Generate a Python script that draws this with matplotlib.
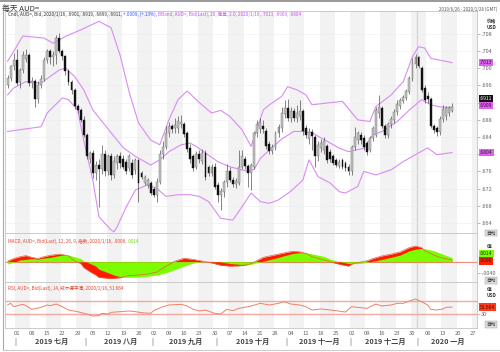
import numpy as np
import pandas as pd
import matplotlib
matplotlib.use('Agg')
import matplotlib.pyplot as plt
from matplotlib.lines import Line2D
import matplotlib.transforms as mtransforms

plt.rcParams['font.family'] = ['Noto Sans CJK SC', 'DejaVu Sans']

# ---------------- data ----------------
first_day = '2019-06-26'
last_day = '2020-01-16'
axis_end = '2020-01-28'

opens = [.6960, .6978, .7005,
         .7020, .6968, .6995, .7022, .7030,
         .6965, .6970, .6928, .6960, .6975,
         .7020, .7040, .7025, .7030, .7070,
         .7040, .7028, .6993, .6968, .6950,
         .6912, .6903, .6880, .6845, .6790,
         .6802, .6756, .6775, .6765, .6800,
         .6760, .6797, .6752, .6780, .6795,
         .6790, .6783, .6768, .6779, .6763,
         .6787, .6756, .6733, .6729, .6733,
         .6720, .6705, .6735, .6800, .6818,
         .6850, .6865, .6860, .6862, .6870,
         .6870, .6850, .6815, .6795, .6771,
         .6800, .6785, .6802, .6771, .6756,
         .6771, .6728, .6705, .6712, .6735,
         .6762, .6740, .6732, .6733, .6771,
         .6790, .6773, .6756, .6770, .6849,
         .6858, .6865, .6855, .6825, .6808,
         .6815, .6849, .6860, .6893, .6907,
         .6885, .6900, .6885, .6890, .6900,
         .6862, .6835, .6852, .6840, .6795,
         .6815, .6810, .6820, .6806, .6795,
         .6787, .6772, .6787, .6779, .6771,
         .6760, .6818, .6833, .6845, .6838,
         .6826, .6810, .6838, .6845, .6896,
         .6908, .6866, .6845, .6870, .6880,
         .6899, .6912, .6924, .6930, .6945,
         .6975, .7010, .7025, .7000, .6955,
         .6935, .6928, .6865, .6860, .6852,
         .6883, .6888, .6895, .6901]
highs = [.6985, .7008, .7035,
         .7045, .7000, .7040, .7045, .7035,
         .6980, .6975, .6970, .6985, .7025,
         .7045, .7045, .7040, .7078, .7082,
         .7045, .7030, .6998, .6972, .6955,
         .6918, .6908, .6890, .6850, .6808,
         .6810, .6785, .6790, .6822, .6810,
         .6800, .6803, .6795, .6800, .6805,
         .6798, .6790, .6800, .6788, .6792,
         .6790, .6762, .6752, .6745, .6738,
         .6725, .6745, .6810, .6830, .6865,
         .6875, .6870, .6885, .6890, .6892,
         .6875, .6855, .6825, .6800, .6808,
         .6810, .6812, .6810, .6775, .6778,
         .6780, .6735, .6722, .6740, .6778,
         .6770, .6748, .6745, .6810, .6810,
         .6795, .6778, .6780, .6855, .6880,
         .6885, .6880, .6860, .6830, .6825,
         .6855, .6870, .6911, .6926, .6929,
         .6910, .6908, .6915, .6925, .6905,
         .6868, .6860, .6858, .6845, .6830,
         .6835, .6840, .6825, .6812, .6800,
         .6792, .6788, .6792, .6785, .6778,
         .6822, .6864, .6855, .6852, .6845,
         .6830, .6842, .6865, .6911, .6938,
         .6912, .6870, .6875, .6890, .6905,
         .6925, .6930, .6938, .6952, .6982,
         .7023, .7033, .7028, .7005, .6960,
         .6945, .6932, .6870, .6866, .6888,
         .6915, .6912, .6912, .6919]
lows = [.6955, .6970, .6995,
        .6960, .6955, .6990, .7015, .6958,
        .6955, .6910, .6920, .6955, .6970,
        .7012, .7010, .7005, .7010, .7035,
        .7020, .6985, .6960, .6940, .6905,
        .6895, .6875, .6840, .6790, .6780,
        .6745, .6740, .6677, .6755, .6750,
        .6752, .6740, .6745, .6765, .6768,
        .6765, .6755, .6760, .6745, .6755,
        .6690, .6742, .6728, .6722, .6705,
        .6700, .6688, .6730, .6790, .6812,
        .6840, .6850, .6850, .6850, .6862,
        .6840, .6805, .6780, .6760, .6765,
        .6780, .6778, .6740, .6750, .6750,
        .6720, .6690, .6671, .6700, .6725,
        .6735, .6725, .6722, .6728, .6765,
        .6765, .6725, .6718, .6765, .6840,
        .6850, .6850, .6812, .6800, .6800,
        .6810, .6840, .6852, .6885, .6878,
        .6875, .6878, .6875, .6880, .6845,
        .6838, .6825, .6810, .6771, .6785,
        .6805, .6800, .6780, .6782, .6775,
        .6770, .6768, .6765, .6760, .6752,
        .6752, .6810, .6825, .6825, .6810,
        .6798, .6805, .6830, .6840, .6885,
        .6860, .6838, .6838, .6860, .6872,
        .6892, .6905, .6920, .6925, .6940,
        .6970, .7000, .7000, .6945, .6920,
        .6920, .6860, .6850, .6843, .6845,
        .6875, .6880, .6890, .6899]
closes = [.6978, .7005, .7020,
          .6966, .6995, .7030, .7030, .6965,
          .6970, .6928, .6960, .6975, .7020,
          .7040, .7025, .7030, .7070, .7040,
          .7028, .6993, .6968, .6950, .6912,
          .6903, .6880, .6845, .6795, .6802,
          .6756, .6775, .6765, .6800, .6760,
          .6797, .6752, .6785, .6795, .6780,
          .6771, .6760, .6795, .6752, .6787,
          .6733, .6748, .6748, .6740, .6710,
          .6705, .6735, .6800, .6818, .6850,
          .6865, .6858, .6868, .6878, .6875,
          .6848, .6812, .6788, .6768, .6800,
          .6790, .6802, .6748, .6756, .6771,
          .6725, .6705, .6715, .6735, .6762,
          .6740, .6732, .6738, .6771, .6795,
          .6773, .6756, .6775, .6849, .6870,
          .6875, .6858, .6820, .6808, .6818,
          .6849, .6864, .6895, .6907, .6884,
          .6900, .6885, .6897, .6900, .6853,
          .6845, .6852, .6842, .6795, .6822,
          .6826, .6830, .6787, .6788, .6780,
          .6776, .6782, .6771, .6768, .6760,
          .6818, .6841, .6849, .6833, .6818,
          .6806, .6838, .6860, .6903, .6911,
          .6866, .6845, .6870, .6883, .6899,
          .6918, .6926, .6934, .6946, .6977,
          .7012, .7025, .7005, .6950, .6927,
          .6928, .6865, .6857, .6852, .6883,
          .6905, .6907, .6908, .6911]

# Bollinger bands (20, 2.0)
bb_up_dates = ['2019-06-26', '2019-06-28', '2019-07-03', '2019-07-12', '2019-07-17', '2019-07-23',
               '2019-07-30', '2019-08-07', '2019-08-13', '2019-08-16', '2019-08-21', '2019-08-26',
               '2019-08-30', '2019-09-04', '2019-09-09', '2019-09-12', '2019-09-17', '2019-09-23',
               '2019-09-27', '2019-10-02', '2019-10-07', '2019-10-11', '2019-10-16', '2019-10-22',
               '2019-10-24', '2019-10-30', '2019-11-01', '2019-11-06', '2019-11-11', '2019-11-13',
               '2019-11-21', '2019-11-27', '2019-12-04', '2019-12-10', '2019-12-12', '2019-12-19',
               '2019-12-25', '2019-12-30', '2020-01-01', '2020-01-03', '2020-01-07', '2020-01-16']
bb_up = [.7016, .7039, .7075, .7070, .7058, .7074,
         .7089, .7109, .7094, .7029, .6943, .6873,
         .6833, .6822, .6880, .6927, .6947, .6920,
         .6896, .6902, .6888, .6857, .6818, .6903,
         .6915, .6934, .6957, .6950, .6938, .6915,
         .6920, .6923, .6880, .6876, .6911, .6938,
         .6969, .7027, .7050, .7047, .7023, .7013]
bb_mid_dates = ['2019-06-26', '2019-06-28', '2019-07-04', '2019-07-11', '2019-07-16', '2019-07-19',
                '2019-07-23', '2019-07-26', '2019-07-31', '2019-08-05', '2019-08-13', '2019-08-19',
                '2019-08-23', '2019-08-30', '2019-09-04', '2019-09-09', '2019-09-13', '2019-09-18',
                '2019-09-20', '2019-09-25', '2019-10-01', '2019-10-07', '2019-10-15', '2019-10-17',
                '2019-10-21', '2019-10-24', '2019-10-30', '2019-11-05', '2019-11-08', '2019-11-13',
                '2019-11-20', '2019-11-26', '2019-11-29', '2019-12-06', '2019-12-11', '2019-12-16',
                '2019-12-23', '2019-12-27', '2020-01-02', '2020-01-07', '2020-01-10', '2020-01-16']
bb_mid = [.6938, .6954, .6969, .6965, .6981, .6996,
          .7000, .6981, .6950, .6903, .6850, .6815,
          .6795, .6775, .6787, .6806, .6822, .6826,
          .6818, .6803, .6783, .6771, .6760, .6765,
          .6790, .6810, .6835, .6853, .6853, .6850,
          .6830, .6814, .6806, .6814, .6845, .6853,
          .6876, .6903, .6927, .6915, .6910, .6909]
bb_low_dates = ['2019-06-26', '2019-07-02', '2019-07-08', '2019-07-11', '2019-07-15', '2019-07-22',
                '2019-07-24', '2019-07-29', '2019-07-31', '2019-08-05', '2019-08-07', '2019-08-13',
                '2019-08-14', '2019-08-15', '2019-08-20', '2019-08-23', '2019-08-29', '2019-09-03',
                '2019-09-06', '2019-09-12', '2019-09-18', '2019-09-23', '2019-09-26', '2019-10-02',
                '2019-10-08', '2019-10-11', '2019-10-16', '2019-10-21', '2019-10-24', '2019-10-29',
                '2019-11-04', '2019-11-08', '2019-11-12', '2019-11-15', '2019-11-21', '2019-11-26',
                '2019-11-28', '2019-12-04', '2019-12-06', '2019-12-12', '2019-12-19', '2019-12-25',
                '2019-12-30', '2020-01-06', '2020-01-09', '2020-01-16']
bb_low = [.6853, .6857, .6861, .6864, .6896, .6931,
          .6927, .6903, .6833, .6740, .6655, .6624,
          .6620, .6632, .6678, .6717, .6729, .6721,
          .6702, .6706, .6706, .6702, .6690, .6651,
          .6647, .6678, .6710, .6690, .6686, .6694,
          .6714, .6740, .6787, .6748, .6733, .6713,
          .6710, .6725, .6760, .6752, .6764, .6783,
          .6795, .6815, .6799, .6804]

# MACD (12, 26, 9)
macd_dates = ['2019-06-26', '2019-06-28', '2019-07-02', '2019-07-04', '2019-07-08', '2019-07-10',
              '2019-07-11', '2019-07-16', '2019-07-19', '2019-07-22', '2019-07-24', '2019-07-26',
              '2019-07-30', '2019-07-31', '2019-08-02', '2019-08-06', '2019-08-07', '2019-08-12',
              '2019-08-14', '2019-08-16', '2019-08-20', '2019-08-26', '2019-08-29', '2019-09-03',
              '2019-09-06', '2019-09-11', '2019-09-16', '2019-09-19', '2019-09-24', '2019-09-27',
              '2019-10-02', '2019-10-07', '2019-10-10', '2019-10-15', '2019-10-16', '2019-10-22',
              '2019-10-28', '2019-11-01', '2019-11-05', '2019-11-07', '2019-11-11', '2019-11-13',
              '2019-11-19', '2019-11-21', '2019-11-25', '2019-11-27', '2019-11-29', '2019-12-02',
              '2019-12-05', '2019-12-09', '2019-12-11', '2019-12-16', '2019-12-19', '2019-12-24',
              '2019-12-27', '2019-12-31', '2020-01-02', '2020-01-03', '2020-01-08', '2020-01-10',
              '2020-01-15', '2020-01-16']
macd = [.0002, .0011, .0017, .0021, .0015, .0011,
        .0015, .0022, .0026, .0025, .0020, .0003,
        -.0006, -.0020, -.0034, -.0046, -.0054, -.0057,
        -.0057, -.0055, -.0049, -.0046, -.0042, -.0036,
        -.0016, .0002, .0012, .0008, .0002, -.0004,
        -.0012, -.0015, -.0014, -.0010, -.0006, .0015,
        .0024, .0033, .0036, .0034, .0029, .0017,
        .0006, .0000, -.0006, -.0011, -.0015, -.0008,
        -.0001, .0003, .0011, .0020, .0026, .0034,
        .0049, .0054, .0049, .0038, .0023, .0015,
        .0008, .0006]
signal = [-.0008, -.0002, .0006, .0008, .0011, .0009,
          .0011, .0015, .0021, .0023, .0023, .0017,
          .0011, .0003, -.0006, -.0015, -.0026, -.0038,
          -.0046, -.0052, -.0054, -.0053, -.0050, -.0046,
          -.0038, -.0027, -.0015, -.0005, .0001, .0002,
          -.0001, -.0006, -.0009, -.0010, -.0009, .0002,
          .0012, .0024, .0029, .0031, .0031, .0027,
          .0018, .0009, .0003, -.0002, -.0006, -.0007,
          -.0006, -.0002, .0002, .0008, .0015, .0023,
          .0038, .0043, .0046, .0045, .0038, .0030,
          .0018, .0014]

# RSI (14)
rsi_dates = ['2019-06-26', '2019-06-27', '2019-06-28', '2019-07-03', '2019-07-04', '2019-07-08',
             '2019-07-11', '2019-07-15', '2019-07-16', '2019-07-18', '2019-07-22', '2019-07-24',
             '2019-07-29', '2019-08-01', '2019-08-05', '2019-08-07', '2019-08-08', '2019-08-12',
             '2019-08-13', '2019-08-16', '2019-08-21', '2019-08-23', '2019-08-27', '2019-08-30',
             '2019-09-02', '2019-09-05', '2019-09-09', '2019-09-13', '2019-09-17', '2019-09-19',
             '2019-09-23', '2019-09-25', '2019-09-30', '2019-10-02', '2019-10-04', '2019-10-08',
             '2019-10-10', '2019-10-15', '2019-10-16', '2019-10-21', '2019-10-24', '2019-10-29',
             '2019-10-31', '2019-11-04', '2019-11-07', '2019-11-11', '2019-11-13', '2019-11-18',
             '2019-11-21', '2019-11-25', '2019-11-27', '2019-11-28', '2019-12-02', '2019-12-04',
             '2019-12-09', '2019-12-12', '2019-12-16', '2019-12-19', '2019-12-23', '2019-12-25',
             '2019-12-27', '2019-12-31', '2020-01-02', '2020-01-06', '2020-01-07', '2020-01-09',
             '2020-01-13', '2020-01-14', '2020-01-16']
rsi = [58, 63, 53, 60, 56, 45,
       51, 58, 56, 61, 53, 43,
       38, 31, 25, 26, 33, 31,
       36, 38, 40, 38, 35, 33,
       41, 53, 58, 60, 55, 45,
       40, 43, 33, 31, 45, 41,
       48, 53, 55, 63, 58, 63,
       68, 61, 58, 53, 43, 46,
       43, 41, 38, 37, 53, 51,
       48, 61, 55, 58, 63, 63,
       70, 76, 68, 58, 45, 43,
       46, 51, 51.664]

price_ticks = [.664, .668, .672, .676, .680, .684, .688, .692, .696, .700, .704, .708]
price_tick_labels = ['.664', '.668', '.672', '.676', '', '.684', '.688', '', '.696', '.700', '.704', '.708']
months = ['2019 七月', '2019 八月', '2019 九月', '2019 十月', '2019 十一月', '2019 十二月', '2020 一月']
month_starts = ['2019-07-01', '2019-08-01', '2019-09-02', '2019-10-01', '2019-11-01', '2019-12-02', '2020-01-01']

# ---------------- helpers ----------------
axis_days = pd.bdate_range(first_day, axis_end)
pos = {d.strftime('%Y-%m-%d'): i for i, d in enumerate(axis_days)}
candle_days = pd.bdate_range(first_day, last_day)
xc = np.arange(len(candle_days))


def xs(dlist):
    return np.array([pos[d] for d in dlist])


def chain_text(ax, x, y, parts, size):
    t = ax.text(x, y, parts[0][0], color=parts[0][1], fontsize=size,
                transform=ax.transAxes, va='center', ha='left')
    for s, c in parts[1:]:
        t = ax.annotate(s, xy=(1, 0), xycoords=t, color=c, fontsize=size,
                        va='bottom', ha='left')


def side_box(ax, y, s, fc, tc, dy=0, size=3.6):
    tr = ax.get_yaxis_transform() + mtransforms.ScaledTranslation(0, dy / 100, ax.figure.dpi_scale_trans)
    ax.text(1.006, y, s, transform=tr, fontsize=size, color=tc, ha='left', va='center',
            bbox=dict(boxstyle='square,pad=0.25', fc=fc, ec='none'), zorder=10, clip_on=False)


def auto_box(ax, yfrac):
    ax.text(1.02, yfrac, '自动', transform=ax.transAxes, fontsize=3.4, color='#333333',
            ha='left', va='center', clip_on=False,
            bbox=dict(boxstyle='square,pad=0.2', fc='#dcdcdc', ec='#999999', lw=0.3))


# ---------------- figure ----------------
fig = plt.figure(figsize=(5, 3.52), dpi=100)
H = 352.0
L, R = 0.010, 0.954
ax1 = fig.add_axes([L, 1 - 233 / H, R - L, (233 - 11) / H])
ax2 = fig.add_axes([L, 1 - 282 / H, R - L, (282 - 233) / H])
ax3 = fig.add_axes([L, 1 - 328 / H, R - L, (328 - 282) / H])

xlo, xhi = -0.85, len(axis_days) - 0.8
mondays = [i for i, d in enumerate(axis_days) if d.weekday() == 0]
jan1 = pos['2020-01-01']

for ax in (ax1, ax2, ax3):
    ax.set_xlim(xlo, xhi)
    for k, m in enumerate(mondays):
        if k % 2 == 0:
            ax.axvspan(m - 0.5, m + 4.5, color='#f2f2f2', lw=0, zorder=0)
    ax.axvline(jan1 - 0.5, color='#d6d6d6', lw=1.0, zorder=0.5)
    for sp in ax.spines.values():
        sp.set_color('#c4c4c4')
        sp.set_linewidth(0.6)
    ax.yaxis.tick_right()
    ax.tick_params(axis='y', length=2, width=0.4, color='#888888', labelsize=4,
                   labelcolor='#666666', pad=1)
    ax.tick_params(axis='x', length=0)

# ---- price panel
ax1.set_ylim(.6617, .7133)
ax1.set_yticks(price_ticks)
ax1.set_yticklabels(price_tick_labels)
for v in price_ticks:
    ax1.axhline(v, color='#ececec', lw=0.4, zorder=0.6)
ax1.set_xticks([])

bb_col = '#d98cf2'
ax1.plot(xs(bb_up_dates), bb_up, color=bb_col, lw=0.8, zorder=2)
ax1.plot(xs(bb_mid_dates), bb_mid, color=bb_col, lw=0.8, zorder=2)
ax1.plot(xs(bb_low_dates), bb_low, color=bb_col, lw=0.8, zorder=2)

o = np.array(opens)
c = np.array(closes)
up = c >= o
ax1.vlines(xc, lows, highs, color='#404040', lw=0.45, zorder=3)
body_lo = np.minimum(o, c)
body_h = np.maximum(np.abs(c - o), 0.00012)
ax1.bar(xc[up], body_h[up], bottom=body_lo[up], width=0.62, color='#c4c4c4',
        edgecolor='#6a6a6a', linewidth=0.3, zorder=4)
ax1.bar(xc[~up], body_h[~up], bottom=body_lo[~up], width=0.62, color='#111111',
        edgecolor='#111111', linewidth=0.3, zorder=4)

chain_text(ax1, 0.006, 0.985, [
    ('Cndl, AUD=, Bid, 2020/1/16, .6901, .6919, .6899, .6911, ', '#333333'),
    ('+.0009, (+.13%), ', '#3355ff'),
    ('BBand, AUD=, Bid(Last), 20, 简单, 2.0, 2020/1/16, .7013, .6909, .6804', '#c655e8')], 3.3)

side_box(ax1, bb_up[-1], '.7013', '#e35cf5', '#222222')
side_box(ax1, closes[-1], '.6911', '#111111', '#ffffff', dy=8)
side_box(ax1, bb_mid[-1], '.6909', '#e35cf5', '#222222', dy=2)
side_box(ax1, bb_low[-1], '.6804', '#e35cf5', '#222222')
ax1.text(1.02, 0.965, '价格\nUSD', transform=ax1.transAxes, fontsize=3.4, color='#333333',
         ha='left', va='top', fontweight='bold', linespacing=1.3)
auto_box(ax1, 0.0)

# ---- MACD panel
ax2.set_ylim(-.0070, .0099)
ax2.set_yticks([-.004])
ax2.set_yticklabels(['-.0040'])
ax2.set_xticks([])
mx = xs(macd_dates)
ax2.fill_between(mx, 0, macd, color='#ff1a00', lw=0, zorder=2)
ax2.fill_between(mx, 0, signal, color='#7cfc00', lw=0, zorder=3)
ax2.plot(mx, macd, color='#e8603c', lw=0.5, zorder=4)
ax2.axhline(0, color='#f08a7a', lw=0.8, zorder=1)
chain_text(ax2, 0.006, 0.83, [
    ('MACD, AUD=, Bid(Last), 12, 26, 9, 指数, 2020/1/16, .0006, ', '#e8402a'),
    ('.0014', '#66dd00')], 3.3)
side_box(ax2, signal[-1], '.0014', '#7cfc00', '#222222', dy=4)
side_box(ax2, macd[-1], '.0006', '#ff2200', '#222222', dy=-1)
ax2.text(1.02, 0.72, '值', transform=ax2.transAxes, fontsize=3.4, color='#333333',
         ha='left', va='center', fontweight='bold')
auto_box(ax2, 0.03)

# ---- RSI panel
ax3.set_ylim(-11, 127)
ax3.set_yticks([30])
ax3.set_yticklabels(['30'])
ax3.axhline(70, color='#f6a8a0', lw=1.0, zorder=1)
ax3.axhline(30, color='#f6a8a0', lw=1.0, zorder=1)
ax3.plot(xs(rsi_dates), rsi, color='#f08068', lw=0.7, zorder=3)
chain_text(ax3, 0.006, 0.86, [
    ('RSI, AUD=, Bid(Last), 14, 威尔德平滑, 2020/1/16, 51.664', '#e8402a')], 3.3)
side_box(ax3, rsi[-1], '51.664', '#ff3a1a', '#222222')
ax3.text(1.02, 0.78, '值\nUSD', transform=ax3.transAxes, fontsize=3.4, color='#333333',
         ha='left', va='center', fontweight='bold', linespacing=1.3)
auto_box(ax3, 0.08)

ax3.set_xticks(mondays)
ax3.set_xticklabels(['%02d' % axis_days[m].day for m in mondays], fontsize=4.2, color='#666666')
ax3.tick_params(axis='x', pad=2.5)

ms = [pos[d] for d in month_starts] + [xhi]
for k, name in enumerate(months):
    ax3.text(ms[k] - 0.5, -0.30, '|', transform=ax3.get_xaxis_transform(), fontsize=5,
             color='#555555', ha='center', va='center')
    ax3.text((ms[k] + ms[k + 1]) / 2, -0.30, name, transform=ax3.get_xaxis_transform(),
             fontsize=5.2, color='#444444', ha='center', va='center', fontweight='bold')

# ---- header
fig.text(0.004, 0.985, '每天 AUD=', fontsize=5.6, color='#333333', ha='left', va='top')
fig.text(0.995, 0.982, '2019/6/26 - 2020/1/28 (GMT)', fontsize=3.2, color='#555555',
         ha='right', va='top')
fig.add_artist(Line2D([0, 1], [0.998, 0.998], color='#888888', lw=1.2))
fig.add_artist(Line2D([0.006, 0.006], [0.005, 0.969], color='#aaaaaa', lw=0.8))
fig.add_artist(Line2D([0.006, 1], [0.006, 0.006], color='#cccccc', lw=0.8))

fig.savefig('out.png', dpi=100)
